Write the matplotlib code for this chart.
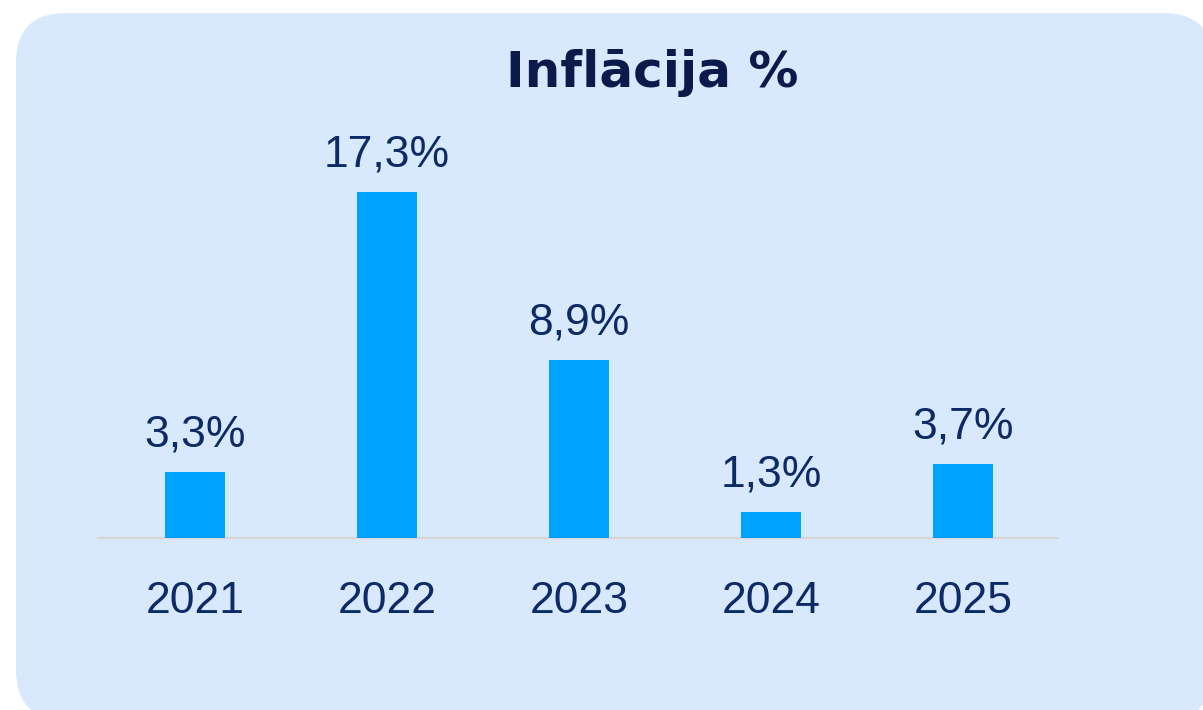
import matplotlib
matplotlib.use("Agg")
import matplotlib.pyplot as plt
from matplotlib.patches import FancyBboxPatch

# chart data
years = ["2021", "2022", "2023", "2024", "2025"]
inflation = [3.3, 17.3, 8.9, 1.3, 3.7]
title = "Inflācija %"

BAR = "#00a2ff"
NAVY = "#0b2a66"
PANEL = "#d9e9fd"

W, H, DPI = 1203, 710, 100
fig = plt.figure(figsize=(W / DPI, H / DPI), dpi=DPI)
fig.patch.set_facecolor("white")

# background panel with rounded corners, drawn in pixel units
bg = fig.add_axes([0, 0, 1, 1])
bg.set_xlim(0, W)
bg.set_ylim(0, H)
bg.axis("off")
panel = FancyBboxPatch((16, -10), 1197, 707,
                       boxstyle="round,pad=0,rounding_size=50",
                       facecolor=PANEL, edgecolor="none")
bg.add_patch(panel)

# bar axes: baseline at 538 px from top, 20 px per percent
ax = fig.add_axes([98 / W, (H - 538) / H, 960 / W, 400 / H])
ax.patch.set_alpha(0)
x = list(range(len(years)))
ax.bar(x, inflation, width=60 / 192, color=BAR, zorder=2)
ax.set_xlim(-0.505, 4.495)
ax.set_ylim(0, 20)

for s in ["top", "left", "right"]:
    ax.spines[s].set_visible(False)
ax.spines["bottom"].set_color("#d6d6d6")
ax.spines["bottom"].set_linewidth(1.6)
ax.spines["bottom"].set_zorder(1)
ax.set_yticks([])
ax.set_xticks(x)
ax.set_xticklabels(years, fontsize=32, color=NAVY, family="Liberation Sans")
ax.tick_params(axis="x", length=0, pad=31)

for i, v in enumerate(inflation):
    lbl = ("%.1f%%" % v).replace(".", ",")
    ax.annotate(lbl, (i, v), xytext=(0, 18), textcoords="offset points",
                ha="center", va="baseline", fontsize=32, color=NAVY,
                family="Liberation Sans")

fig.text(652 / W, (H - 87) / H, title, ha="center", va="baseline",
         fontsize=36, fontweight="bold", color="#0a1a4a",
         family="DejaVu Sans")

fig.savefig("out.png", dpi=DPI)
